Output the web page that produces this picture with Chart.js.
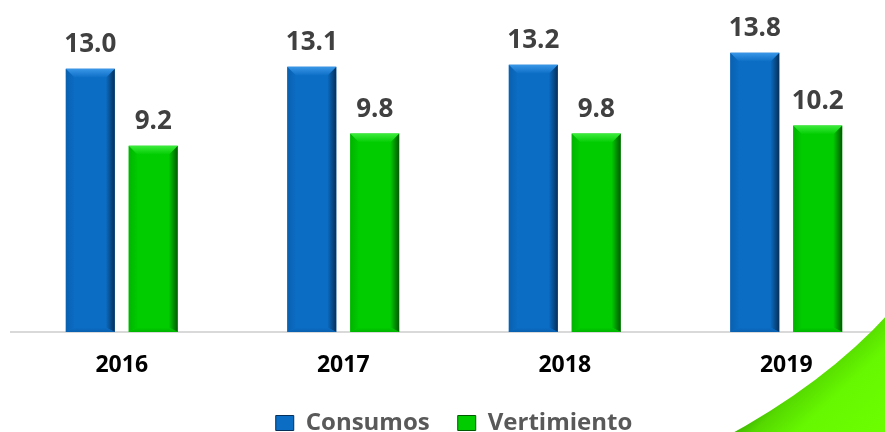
<!DOCTYPE html>
<html>
<head>
<meta charset="utf-8">
<script src="https://cdn.jsdelivr.net/npm/chart.js@4/dist/chart.umd.min.js"></script>
<style>
  body { margin: 0; background: #fff; }
  #frame { width: 885px; height: 432px; overflow: hidden; position: relative; }
  #box { width: 897px; height: 445px; position: absolute; left: 0; top: 0; }
</style>
</head>
<body>
<div id="frame"><div id="box"><canvas id="chart"></canvas></div></div>
<script>
const years = ['2016', '2017', '2018', '2019'];
const consumos = [13.0, 13.1, 13.2, 13.8];
const vertimiento = [9.2, 9.8, 9.8, 10.2];
const seriesNames = ['Consumos', 'Vertimiento'];

// colour sets for the bevelled bars
const tones = [
    { main: '#0B6DC4', light: '#3A97E8', dark: '#062F5A', side: '#0960B0' },
    { main: '#00CC00', light: '#3DEB3D', dark: '#005A00', side: '#00B400' }
];

const bevel = {
    id: 'bevel',
    afterDatasetsDraw(chart) {
        const ctx = chart.ctx;
        chart.data.datasets.forEach((ds, i) => {
            const tone = tones[i];
            chart.getDatasetMeta(i).data.forEach(bar => {
                const w = bar.width;
                const x1 = bar.x - w / 2, x2 = bar.x + w / 2;
                const y1 = bar.y, y2 = bar.base;
                const b = 9;
                ctx.save();
                // left edge
                let g = ctx.createLinearGradient(x1, 0, x1 + b, 0);
                g.addColorStop(0, tone.side);
                g.addColorStop(1, tone.main);
                ctx.fillStyle = g;
                ctx.beginPath();
                ctx.moveTo(x1, y1); ctx.lineTo(x1 + b, y1 + b); ctx.lineTo(x1 + b, y2 - b / 2); ctx.lineTo(x1, y2);
                ctx.closePath(); ctx.fill();
                // right edge
                g = ctx.createLinearGradient(x2 - b, 0, x2, 0);
                g.addColorStop(0, tone.main);
                g.addColorStop(1, tone.dark);
                ctx.fillStyle = g;
                ctx.beginPath();
                ctx.moveTo(x2, y1); ctx.lineTo(x2 - b, y1 + b); ctx.lineTo(x2 - b, y2 - b / 2); ctx.lineTo(x2, y2);
                ctx.closePath(); ctx.fill();
                // bottom edge
                g = ctx.createLinearGradient(0, y2 - b / 2, 0, y2);
                g.addColorStop(0, tone.main);
                g.addColorStop(1, tone.side);
                ctx.fillStyle = g;
                ctx.beginPath();
                ctx.moveTo(x1 + b, y2 - b / 2); ctx.lineTo(x2 - b, y2 - b / 2); ctx.lineTo(x2, y2); ctx.lineTo(x1, y2);
                ctx.closePath(); ctx.fill();
                // top edge
                g = ctx.createLinearGradient(0, y1, 0, y1 + b);
                g.addColorStop(0, tone.light);
                g.addColorStop(1, tone.main);
                ctx.fillStyle = g;
                ctx.beginPath();
                ctx.moveTo(x1, y1); ctx.lineTo(x2, y1); ctx.lineTo(x2 - b, y1 + b); ctx.lineTo(x1 + b, y1 + b);
                ctx.closePath(); ctx.fill();
                ctx.restore();
            });
        });
    }
};

const valueLabels = {
    id: 'valueLabels',
    afterDatasetsDraw(chart) {
        const ctx = chart.ctx;
        ctx.save();
        ctx.font = 'bold 26px "Open Sans"';
        ctx.fillStyle = '#404040';
        ctx.textAlign = 'center';
        ctx.textBaseline = 'alphabetic';
        chart.data.datasets.forEach((ds, i) => {
            chart.getDatasetMeta(i).data.forEach((bar, j) => {
                ctx.fillText(ds.data[j].toFixed(1), bar.x, bar.y - 17);
            });
        });
        ctx.restore();
    }
};

// green swoosh in the lower right corner
const swoosh = {
    id: 'swoosh',
    afterDraw(chart) {
        const ctx = chart.ctx;
        ctx.save();
        const g = ctx.createLinearGradient(805, 365, 880, 445);
        g.addColorStop(0, '#3FB800');
        g.addColorStop(0.12, '#55D800');
        g.addColorStop(0.4, '#66F800');
        g.addColorStop(1, '#6CFF00');
        ctx.fillStyle = g;
        ctx.beginPath();
        ctx.moveTo(890, 312);
        ctx.quadraticCurveTo(825, 384, 720, 440);
        ctx.lineTo(900, 450);
        ctx.lineTo(900, 312);
        ctx.closePath();
        ctx.fill();
        ctx.restore();
    }
};

new Chart(document.getElementById('chart'), {
    type: 'bar',
    data: {
        labels: years,
        datasets: [
            { label: seriesNames[0], data: consumos, backgroundColor: tones[0].main, borderColor: tones[0].dark, borderWidth: 0 },
            { label: seriesNames[1], data: vertimiento, backgroundColor: tones[1].main, borderColor: tones[1].dark, borderWidth: 0 }
        ]
    },
    options: {
        responsive: true,
        maintainAspectRatio: false,
        animation: false,
        categoryPercentage: 0.568,
        barPercentage: 0.778,
        layout: { padding: { left: 11, top: 0, right: 0, bottom: 0 } },
        scales: {
            x: {
                grid: { display: true, drawOnChartArea: false, drawTicks: false, color: 'rgba(0,0,0,0)' },
                border: { display: true, color: '#D9D9D9', width: 2 },
                ticks: { color: '#000', font: { family: 'Open Sans', weight: 'bold', size: 23 }, padding: 20 },
                afterFit: s => { s.height = 51; }
            },
            y: { display: false, min: 0, max: 16.4 }
        },
        plugins: {
            legend: {
                position: 'bottom',
                labels: {
                    boxWidth: 18,
                    boxHeight: 15,
                    padding: 28,
                    color: '#595959',
                    font: { family: 'Open Sans', weight: 'bold', size: 24 },
                    generateLabels: chart => chart.data.datasets.map((ds, i) => ({
                        text: ds.label,
                        fillStyle: tones[i].main,
                        strokeStyle: tones[i].dark,
                        lineWidth: 1,
                        fontColor: '#595959',
                        datasetIndex: i
                    }))
                }
            },
            tooltip: { enabled: false }
        }
    },
    plugins: [swoosh, bevel, valueLabels]
});
</script>
</body>
</html>
